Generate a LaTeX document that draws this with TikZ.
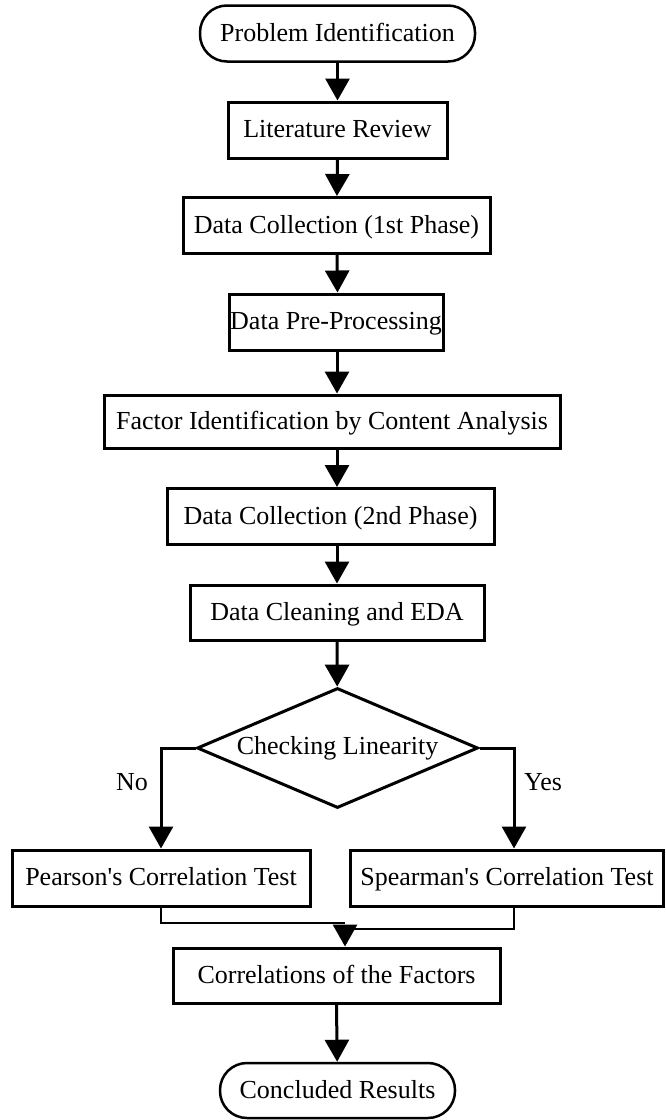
\documentclass[tikz,border=0pt]{standalone}
\usepackage{fontspec}
\setmainfont{Liberation Serif}
\usetikzlibrary{shapes.geometric}
\usetikzlibrary{arrows.meta}

\tikzset{
	proc/.style={rectangle,draw=black,line width=3pt,align=center,minimum height=56pt,inner sep=0pt,text height=19.5pt,text depth=4.5pt},
	term/.style={rectangle,draw=black,line width=2.5pt,rounded corners=27pt,minimum height=56pt,inner sep=0pt,text height=19.5pt,text depth=4.5pt},
	dec/.style={diamond,aspect=2.34,draw=black,line width=3pt,minimum width=281pt,minimum height=120pt,inner sep=0pt},
	arr/.style={line width=3pt,-{Triangle[length=22pt,width=24pt]}},
	mergeline/.style={line width=2pt}
}

\begin{document}
\begin{tikzpicture}[x=1pt,y=-1pt,font=\fontsize{26pt}{30pt}\selectfont]
	\useasboundingbox (0,0) rectangle (666,1120);
	\path (337.5,33.5) node(pi)[term,minimum width=275pt]{Problem Identification}
	(337.5,130) node(lr)[proc,minimum width=219pt]{Literature Review}
	(336.5,225.5) node(dc1)[proc,minimum width=307pt]{Data Collection (1st Phase)}
	(336,322) node(dpp)[proc,minimum width=214pt]{Data Pre-Processing}
	(332,421.5) node(fid)[proc,minimum width=456pt,minimum height=53pt]{Factor Identification by Content Analysis}
	(330.5,516.5) node(dc2)[proc,minimum width=327pt]{Data Collection (2nd Phase)}
	(337,612.5) node(dce)[proc,minimum width=294pt,minimum height=55pt]{Data Cleaning and EDA}
	(337.5,748) node(cl)[dec]{Checking Linearity}
	(161,878) node(pct)[proc,minimum width=298pt]{Pearson\textquotesingle s Correlation Test}
	(507,878) node(sct)[proc,minimum width=313pt]{Spearman\textquotesingle s Correlation Test}
	(336.5,975.5) node(cf)[proc,minimum width=327pt,minimum height=55pt]{Correlations of the Factors}
	(337.5,1090.5) node(cr)[term,minimum width=235pt,minimum height=55pt]{Concluded Results};
	\draw[arr](pi.south)--(lr);
	\draw[arr](lr.south)--(dc1);
	\draw[arr]([xshift=0.5pt]dc1.south)--([xshift=1.5pt]dpp.north);
	\draw[arr]([xshift=1pt]dpp.south)--([xshift=5pt]fid.north);
	\draw[arr]([xshift=5pt]fid.south)--([xshift=6.5pt]dc2.north);
	\draw[arr]([xshift=6.5pt]dc2.south)--(dce);
	\draw[arr](dce.south)--(cl);
	\draw[arr](cl.west)-|(pct.north);
	\draw (132,782)node{No};
	\draw[arr](cl.east)-|([xshift=7pt]sct.north);
	\draw (543,782)node{Yes};
	\coordinate (j1) at (345,923);
	\coordinate (j2) at (345,929);
	\draw[mergeline](pct.south)|-(j1);
	\draw[mergeline]([xshift=7pt]sct.south)|-(j2);
	\draw[arr](j2)--(j2 |- cf.north);
	\draw[arr](cf.south)--(cr);
\end{tikzpicture}
\end{document}
